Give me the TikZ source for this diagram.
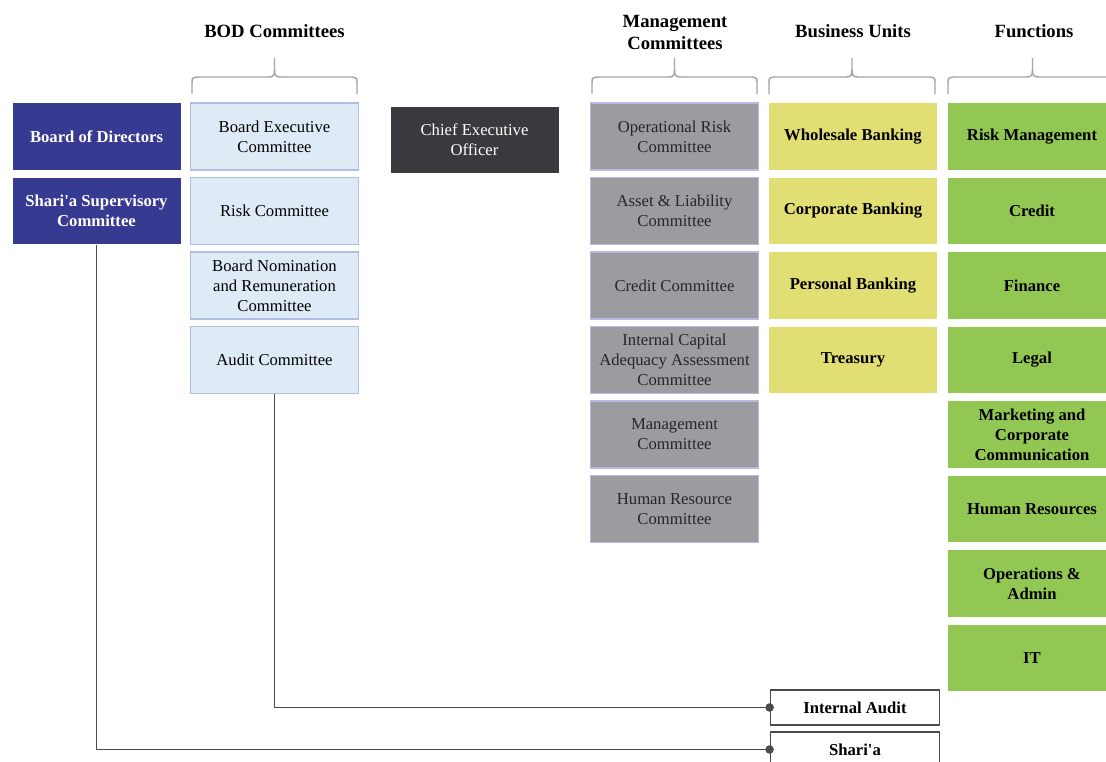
\documentclass[tikz,border=0pt]{standalone}
\usepackage{fontspec}
\setmainfont{Liberation Serif}

\definecolor{bodblue}{RGB}{54,58,145}
\definecolor{paleblue}{RGB}{222,235,247}
\definecolor{paleedge}{RGB}{176,190,226}
\definecolor{ceogray}{RGB}{58,58,62}
\definecolor{mgmtgray}{RGB}{154,156,159}
\definecolor{mgmtedge}{RGB}{185,185,230}
\definecolor{unityellow}{RGB}{225,222,115}
\definecolor{fungreen}{RGB}{146,199,83}
\definecolor{bracegray}{RGB}{165,165,165}
\definecolor{linkgray}{RGB}{75,75,75}

\tikzset{
  box/.style={minimum width=126pt,minimum height=50pt,align=center,inner sep=2pt,
    font=\fontsize{12.5}{15}\selectfont},
  bodbox/.style={box,fill=bodblue,text=white,font=\fontsize{12.5}{15}\selectfont\bfseries},
  combox/.style={box,fill=paleblue,draw=paleedge,line width=1.1pt},
  ceobox/.style={box,fill=ceogray,text=white},
  mgmtbox/.style={box,fill=mgmtgray,draw=mgmtedge,line width=1.1pt,text=black!85},
  unitbox/.style={box,fill=unityellow,font=\fontsize{12.5}{15}\selectfont\bfseries},
  funbox/.style={box,fill=fungreen,font=\fontsize{12.5}{15}\selectfont\bfseries},
  auditbox/.style={minimum width=127pt,minimum height=26pt,inner sep=2pt,fill=white,
    draw=linkgray,line width=1.1pt,font=\fontsize{12.5}{15}\selectfont\bfseries},
  head/.style={align=center,font=\fontsize{14}{16.5}\selectfont\bfseries},
  link/.style={draw=linkgray,line width=1.2pt},
}

\begin{document}
\begin{tikzpicture}[x=0.75pt,y=-0.75pt]
  \useasboundingbox (0,0) rectangle (1106,761);
  \clip (0,0) rectangle (1106,761);

  % column headings
  \node (hbod) at (274.5,31) [head] {BOD Committees};
  \node (hmgmt) at (675,32) [head] {Management\\Committees};
  \node (hunit) at (853,31) [head] {Business Units};
  \node (hfun) at (1034,31) [head] {Functions};

  % braces under the headings
  \foreach \xa/\xb in {192/357, 592/757, 769/935, 948/1117}{
    \pgfmathsetmacro\xc{(\xa+\xb)/2}
    \draw [bracegray,line width=1.1pt] (\xa,94) -- (\xa,83) .. controls (\xa,78) .. (\xa+5,77)
      -- (\xc-6,77) .. controls (\xc-1,77) and (\xc,75) .. (\xc,70) -- (\xc,58);
    \draw [bracegray,line width=1.1pt] (\xb,94) -- (\xb,83) .. controls (\xb,78) .. (\xb-5,77)
      -- (\xc+6,77) .. controls (\xc+1,77) and (\xc,75) .. (\xc,70);
  }

  % board
  \node (bod) at (96.5,136.5) [bodbox] {Board of Directors};
  \node (ssc) at (96.5,211) [bodbox] {Shari\textquotesingle a Supervisory\\Committee};

  % BOD committees
  \node (bec) at (274.5,136.5) [combox] {Board Executive\\Committee};
  \node (rc) at (274.5,211) [combox] {Risk Committee};
  \node (bnrc) at (274.5,285.5) [combox] {Board Nomination\\and Remuneration\\Committee};
  \node (ac) at (274.5,360) [combox] {Audit Committee};

  % CEO
  \node (ceo) at (474.5,140) [ceobox] {Chief Executive\\Officer};

  % management committees
  \node (orc) at (674.5,136.5) [mgmtbox] {Operational Risk\\Committee};
  \node (alco) at (674.5,211) [mgmtbox] {Asset \& Liability\\Committee};
  \node (cc) at (674.5,285.5) [mgmtbox] {Credit Committee};
  \node (icaac) at (674.5,360) [mgmtbox] {Internal Capital\\Adequacy Assessment\\Committee};
  \node (mc) at (674.5,434.5) [mgmtbox] {Management\\Committee};
  \node (hrc) at (674.5,509) [mgmtbox] {Human Resource\\Committee};

  % business units
  \node (wb) at (853,136.5) [unitbox] {Wholesale Banking};
  \node (cb) at (853,211) [unitbox] {Corporate Banking};
  \node (pb) at (853,285.5) [unitbox] {Personal Banking};
  \node (tr) at (853,360) [unitbox] {Treasury};

  % functions
  \node (rm) at (1032,136.5) [funbox] {Risk Management};
  \node (cr) at (1032,211) [funbox] {Credit};
  \node (fin) at (1032,285.5) [funbox] {Finance};
  \node (leg) at (1032,360) [funbox] {Legal};
  \node (mcc) at (1032,434.5) [funbox] {Marketing and\\Corporate\\Communication};
  \node (hr) at (1032,509) [funbox] {Human Resources};
  \node (oa) at (1032,583.5) [funbox] {Operations \&\\Admin};
  \node (it) at (1032,658) [funbox] {IT};

  % reporting lines
  \node (ia) at (855,707.5) [auditbox] {Internal Audit};
  \node (sh) at (855,749.5) [auditbox] {Shari\textquotesingle a};
  \draw [link] (ac.south) |- (ia.west);
  \draw [link] (ssc.south) |- (sh.west);
  \fill [linkgray] (ia.west) circle (3.2pt);
  \fill [linkgray] (sh.west) circle (3.2pt);
\end{tikzpicture}
\end{document}
